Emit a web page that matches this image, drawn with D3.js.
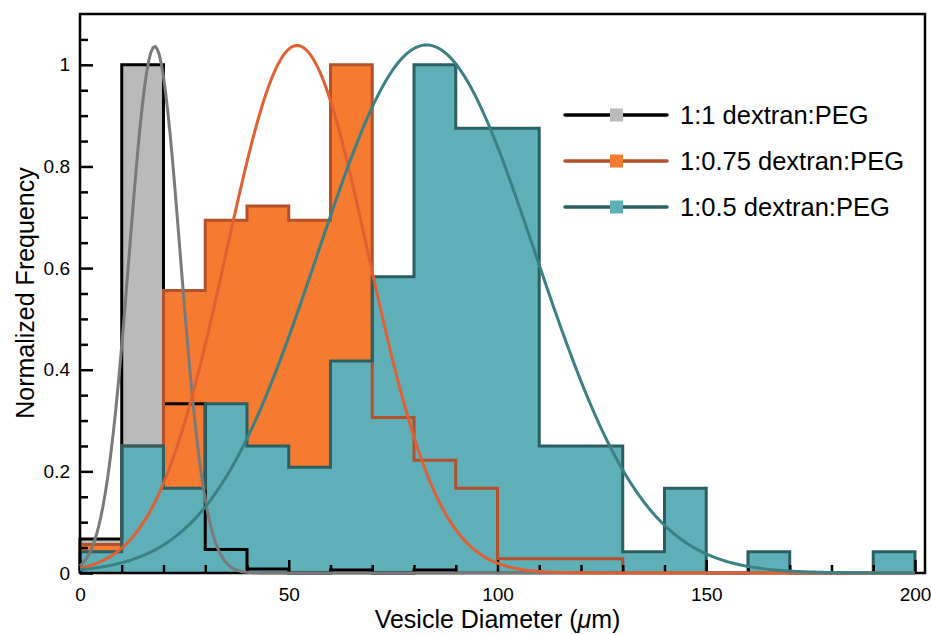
<!DOCTYPE html>
<html>
<head>
<meta charset="utf-8">
<script src="https://cdn.jsdelivr.net/npm/d3@7.9.0/dist/d3.min.js"></script>
<style>
  html, body { margin: 0; padding: 0; background: #fff; }
  svg { display: block; font-family: "Liberation Sans", Arial, Helvetica, sans-serif; }
</style>
</head>
<body>
<svg id="chart" width="931" height="635"></svg>
<script>
// bins are 10 µm wide, starting at 0
const binWidth = 10;

// normalized counts per bin
const ratio100 = [0.067, 1.0, 0.333, 0.046, 0.008, 0, 0.006, 0, 0.006];
const ratio075 = [0.056, 0.25, 0.556, 0.694, 0.722, 0.694, 1.0, 0.306, 0.222, 0.167, 0.028, 0.028, 0.028];
const ratio050 = [0.042, 0.25, 0.167, 0.333, 0.25, 0.208, 0.417, 0.583, 1.0, 0.875,
                  0.875, 0.25, 0.25, 0.042, 0.167, 0, 0.042, 0, 0, 0.042];

// gaussian fits: [mean, sigma, peak]
const fit100 = [17.9, 6.1, 1.036];
const fit075 = [52, 17, 1.038];
const fit050 = [83, 26, 1.039];

const seriesNames = ['1:1 dextran:PEG', '1:0.75 dextran:PEG', '1:0.5 dextran:PEG'];

const xTicks = [0, 50, 100, 150, 200];
const xMinorTicks = [10, 20, 30, 40, 60, 70, 80, 90, 110, 120, 130, 140, 160, 170, 180, 190];
const yTicks = [0, 0.2, 0.4, 0.6, 0.8, 1];
const yTickLabels = ['0', '0.2', '0.4', '0.6', '0.8', '1'];
const yMinorTicks = [0.05, 0.1, 0.15, 0.25, 0.3, 0.35, 0.45, 0.5, 0.55, 0.65, 0.7, 0.75, 0.85, 0.9, 0.95, 1.05];

const styles = [
  { fill: '#bababa', line: '#000000', curve: '#7a7a7a' },
  { fill: '#f77a31', line: '#b4502a', curve: '#df6133' },
  { fill: '#5fafb9', line: '#2c5f62', curve: '#3b8083' },
];

const svg = d3.select('#chart');
const box = { left: 80, right: 925, top: 14, bottom: 573 };

const x = d3.scaleLinear().domain([0, 202.4]).range([box.left, box.right]);
const y = d3.scaleLinear().domain([0, 1.1]).range([box.bottom, box.top]);

function stepPoints(vals) {
  const pts = [[0, 0]];
  vals.forEach((v, i) => {
    pts.push([i * binWidth, v]);
    pts.push([(i + 1) * binWidth, v]);
  });
  pts.push([vals.length * binWidth, 0]);
  return pts;
}

const line = d3.line().x(d => x(d[0])).y(d => y(d[1]));
const hists = [ratio100, ratio075, ratio050].map(stepPoints);

// fills first, then all outlines on top
const plot = svg.append('g');
plot.selectAll('path.fill')
  .data(hists)
  .join('path')
    .attr('class', 'fill')
    .attr('d', d => line(d) + 'Z')
    .attr('fill', (d, i) => styles[i].fill)
    .attr('stroke', 'none');

plot.selectAll('path.outline')
  .data(hists)
  .join('path')
    .attr('class', 'outline')
    .attr('d', line)
    .attr('fill', 'none')
    .attr('stroke', (d, i) => styles[i].line)
    .attr('stroke-width', 3)
    .attr('stroke-linejoin', 'miter');

// frame
svg.append('rect')
  .attr('x', box.left).attr('y', box.top)
  .attr('width', box.right - box.left).attr('height', box.bottom - box.top)
  .attr('fill', 'none')
  .attr('stroke', '#000')
  .attr('stroke-width', 2.5);

// axes, ticks pointing inward
svg.append('g')
  .attr('transform', `translate(0,${box.bottom})`)
  .call(d3.axisBottom(x).tickValues(xTicks).tickSize(-13).tickPadding(15).tickFormat(d3.format('d')));
svg.append('g')
  .attr('transform', `translate(0,${box.bottom})`)
  .call(d3.axisBottom(x).tickValues(xMinorTicks).tickSize(-8).tickFormat(''));

svg.append('g')
  .attr('transform', `translate(${box.left},0)`)
  .call(d3.axisLeft(y).tickValues(yTicks).tickSize(-13).tickPadding(10)
    .tickFormat((d, i) => yTickLabels[i]));
svg.append('g')
  .attr('transform', `translate(${box.left},0)`)
  .call(d3.axisLeft(y).tickValues(yMinorTicks).tickSize(-8).tickFormat(''));

svg.selectAll('.domain').remove();
svg.selectAll('.tick line').attr('stroke', '#000').attr('stroke-width', 2.5);
svg.selectAll('.tick text').attr('font-size', 19).attr('fill', '#000')
  .style('font-family', '"Liberation Sans", Arial, Helvetica, sans-serif');

// fitted curves
const xs = d3.range(0, 200.01, 0.5);
[fit100, fit075, fit050].forEach(([mu, sd, amp], i) => {
  svg.append('path')
    .datum(xs.map(v => [v, amp * Math.exp(-((v - mu) ** 2) / (2 * sd * sd))]))
    .attr('d', line)
    .attr('fill', 'none')
    .attr('stroke', styles[i].curve)
    .attr('stroke-width', 3);
});

// legend
const legend = svg.append('g');
const legendY = [115, 161, 207];
seriesNames.forEach((name, i) => {
  const g = legend.append('g').attr('transform', `translate(0,${legendY[i]})`);
  g.append('line')
    .attr('x1', 565).attr('x2', 667)
    .attr('stroke', styles[i].line).attr('stroke-width', 3.5)
    .attr('stroke-linecap', 'round');
  g.append('rect')
    .attr('x', 610).attr('y', -6.5).attr('width', 13).attr('height', 13)
    .attr('fill', styles[i].fill);
  g.append('text')
    .attr('x', 680).attr('dy', '0.35em')
    .attr('font-size', 25.5)
    .text(name);
});

// axis titles
const xTitle = svg.append('text')
  .attr('x', (box.left + 915) / 2).attr('y', 628)
  .attr('text-anchor', 'middle')
  .attr('font-size', 25);
xTitle.append('tspan').text('Vesicle Diameter (');
xTitle.append('tspan').attr('font-style', 'italic').text('μ');
xTitle.append('tspan').text('m)');

svg.append('text')
  .attr('transform', 'translate(34,293) rotate(-90)')
  .attr('text-anchor', 'middle')
  .attr('font-size', 25)
  .text('Normalized Frequency');
</script>
</body>
</html>
